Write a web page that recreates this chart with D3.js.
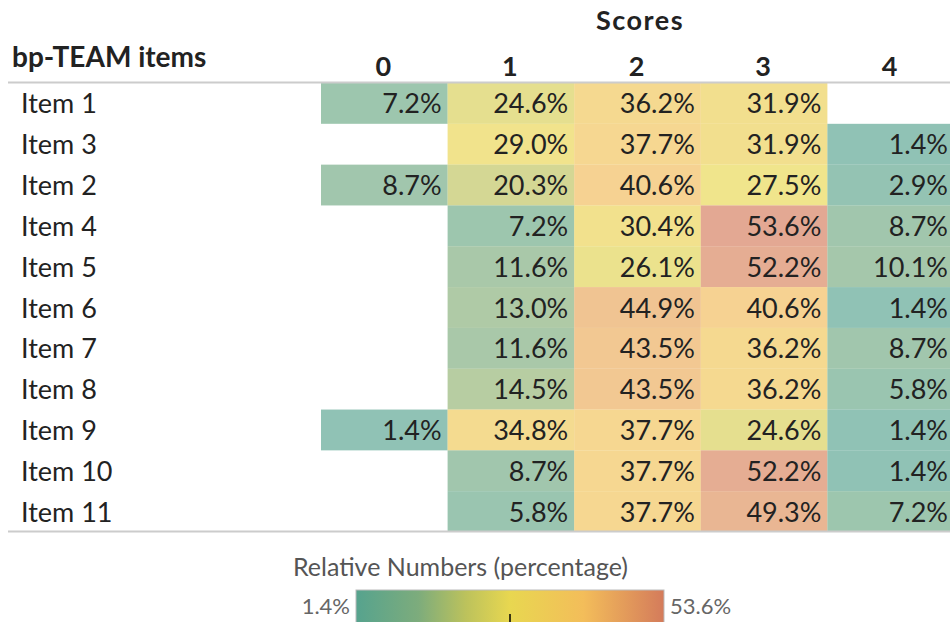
<!DOCTYPE html>
<html>
<head>
<meta charset="utf-8">
<script src="https://cdn.jsdelivr.net/npm/d3@7"></script>
<style>
  body { margin: 0; background: #fff; }
  text { font-family: Lato, "Open Sans", sans-serif; }
</style>
</head>
<body>
<div id="container"></div>
<script>
// Data ---------- ---------- ----------
let items = ["Item 1", "Item 3", "Item 2", "Item 4", "Item 5", "Item 6", "Item 7", "Item 8", "Item 9", "Item 10", "Item 11"];
let scores = ["0", "1", "2", "3", "4"];
let score0 = [7.2, null, 8.7, null, null, null, null, null, 1.4, null, null];
let score1 = [24.6, 29.0, 20.3, 7.2, 11.6, 13.0, 11.6, 14.5, 34.8, 8.7, 5.8];
let score2 = [36.2, 37.7, 40.6, 30.4, 26.1, 44.9, 43.5, 43.5, 37.7, 37.7, 37.7];
let score3 = [31.9, 31.9, 27.5, 53.6, 52.2, 40.6, 36.2, 36.2, 24.6, 52.2, 49.3];
let score4 = [null, 1.4, 2.9, 8.7, 10.1, 1.4, 8.7, 5.8, 1.4, 1.4, 7.2];
let legendMin = 1.4, legendMax = 53.6;

// Hard Code values ---------- ---------- ----------
let canvasW = 950, canvasH = 622;
let svg = d3.select("#container").append("svg").attr("width", canvasW).attr("height", canvasH);

let cols = [score0, score1, score2, score3, score4];
let cells = [];
items.forEach((it, i) => scores.forEach((s, j) => {
    if (cols[j][i] != null) cells.push({item: it, score: s, v: cols[j][i]});
}));

let x = d3.scaleBand().domain(scores).range([321, 954]);
let y = d3.scaleBand().domain(items).range([83, 532]);
let color = d3.scaleLinear()
    .domain([legendMin, 12, 20, 27.5, 40, legendMax])
    .range(["#56a38e", "#7dac7c", "#bcc25c", "#e8d750", "#f3bd5a", "#d47b5b"]);

// Cells
svg.selectAll(".cell").data(cells).enter().append("rect")
    .attr("class", "cell")
    .attr("x", d => x(d.score)).attr("y", d => y(d.item))
    .attr("width", x.bandwidth()).attr("height", y.bandwidth())
    .attr("fill", d => color(d.v)).attr("fill-opacity", 0.66);

svg.selectAll(".val").data(cells).enter().append("text")
    .attr("class", "val")
    .attr("x", d => x(d.score) + x.bandwidth() - 6)
    .attr("y", d => y(d.item) + y.bandwidth() / 2 + 10)
    .attr("text-anchor", "end").attr("font-size", 27).attr("fill", "#222")
    .text(d => d.v.toFixed(1) + "%");

// Row labels
svg.selectAll(".rowLab").data(items).enter().append("text")
    .attr("x", 21).attr("y", d => y(d) + y.bandwidth() / 2 + 10)
    .attr("font-size", 27).attr("fill", "#222").text(d => d);

// Column headers
svg.selectAll(".colLab").data(scores).enter().append("text")
    .attr("x", d => x(d) + x.bandwidth() / 2 - 1).attr("y", 76)
    .attr("text-anchor", "middle").attr("font-size", 27).attr("font-weight", "bold")
    .attr("fill", "#222").text(d => d);

svg.append("text").attr("x", 640).attr("y", 30).attr("text-anchor", "middle")
    .attr("font-size", 27).attr("font-weight", "bold").attr("letter-spacing", 1.5)
    .attr("fill", "#222").text("Scores");
svg.append("text").attr("x", 12).attr("y", 67)
    .attr("font-size", 28).attr("font-weight", "bold").attr("fill", "#222").text("bp-TEAM items");

// Rules
svg.append("line").attr("x1", 8).attr("x2", 950).attr("y1", 82.5).attr("y2", 82.5)
    .attr("stroke", "#ccc").attr("stroke-width", 2);
svg.append("line").attr("x1", 8).attr("x2", 950).attr("y1", 531.5).attr("y2", 531.5)
    .attr("stroke", "#ccc").attr("stroke-width", 2);

// Legend ---------- ---------- ----------
let lx = d3.scaleLinear().domain([legendMin, legendMax]).range([356, 664]);
let grad = svg.append("defs").append("linearGradient").attr("id", "grad");
color.domain().forEach(v => grad.append("stop")
    .attr("offset", (lx(v) - 356) / 308).attr("stop-color", color(v)));
svg.append("text").attr("x", 293).attr("y", 576).attr("font-size", 25).attr("fill", "#555")
    .text("Relative Numbers (percentage)");
svg.append("rect").attr("x", lx(legendMin)).attr("y", 590).attr("width", lx(legendMax) - lx(legendMin)).attr("height", 40)
    .attr("fill", "url(#grad)").attr("stroke", "#bbb");
svg.append("line").attr("x1", lx((legendMin + legendMax) / 2)).attr("x2", lx((legendMin + legendMax) / 2))
    .attr("y1", 614).attr("y2", 622).attr("stroke", "#000").attr("stroke-width", 1.5);
svg.append("text").attr("x", 350).attr("y", 614).attr("text-anchor", "end").attr("font-size", 22)
    .attr("fill", "#666").text(legendMin.toFixed(1) + "%");
svg.append("text").attr("x", 670).attr("y", 614).attr("font-size", 22)
    .attr("fill", "#666").text(legendMax.toFixed(1) + "%");
</script>
</body>
</html>
